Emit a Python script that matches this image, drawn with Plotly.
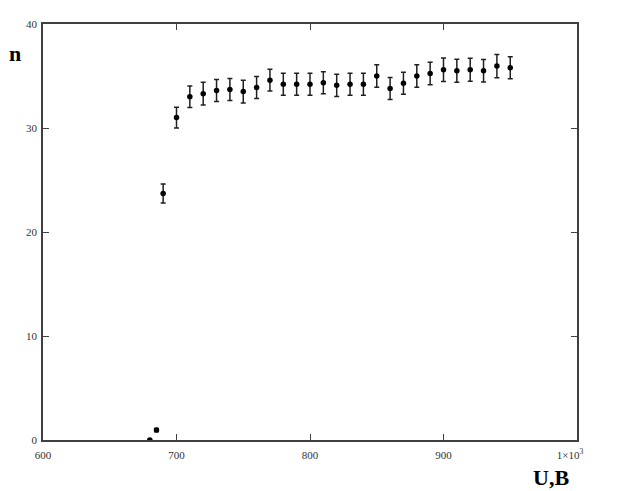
import plotly.graph_objects as go

U = [680, 685, 690, 700, 710, 720, 730, 740, 750, 760, 770, 780, 790, 800,
     810, 820, 830, 840, 850, 860, 870, 880, 890, 900, 910, 920, 930, 940, 950]
n = [0.0, 0.95, 23.7, 31.0, 33.0, 33.3, 33.6, 33.7, 33.5, 33.9, 34.6, 34.2, 34.2, 34.2,
     34.35, 34.1, 34.2, 34.2, 35.0, 33.8, 34.3, 35.0, 35.25, 35.6, 35.5, 35.6, 35.5, 35.95, 35.8]
n_err = [0.0, 0.15, 0.92, 1.0, 1.04, 1.1, 1.06, 1.06, 1.1, 1.06, 1.04, 1.06, 1.06, 1.06,
         1.06, 1.06, 1.06, 1.06, 1.09, 1.06, 1.06, 1.08, 1.08, 1.12, 1.1, 1.1, 1.08, 1.12, 1.06]

x_ticks = [600, 700, 800, 900, 1000]
x_ticktext = ["600", "700", "800", "900", "1×10<sup>3</sup>&nbsp;&nbsp;&nbsp;&nbsp;&nbsp;"]
y_ticks = [0, 10, 20, 30, 40]

fig = go.Figure()
fig.add_trace(go.Scatter(
    x=U, y=n, mode="markers",
    marker=dict(color="black", size=5.5),
    error_y=dict(type="data", array=n_err, visible=True, color="#202020", thickness=1.5, width=2.5),
    showlegend=False,
))

axis_common = dict(
    showgrid=False, zeroline=False, showline=True, linecolor="#404040", linewidth=1.5,
    ticks="inside", ticklen=6, tickcolor="#404040", tickwidth=1, mirror="ticks",
    tickfont=dict(family="Liberation Serif", size=11, color="#333333"),
)

fig.update_layout(
    width=611, height=483,
    margin=dict(l=35, r=42, t=10, b=51),
    paper_bgcolor="white", plot_bgcolor="white",
    xaxis=dict(range=[600, 1000], tickvals=x_ticks, ticktext=x_ticktext, ticklabelstandoff=4, **axis_common),
    yaxis=dict(range=[0, 40], tickvals=y_ticks, ticklabelstandoff=2, **axis_common),
    annotations=[
        dict(text="<b>n</b>", xref="paper", yref="paper", x=-0.052, y=0.929,
             xanchor="center", yanchor="middle",
             showarrow=False, font=dict(family="Liberation Serif", size=22, color="black")),
        dict(text="<b>U,B</b>", xref="paper", yref="paper", x=0.951, y=-0.09,
             xanchor="center", yanchor="middle",
             showarrow=False, font=dict(family="Liberation Serif", size=22, color="black")),
    ],
)

fig.write_html("out.html")
